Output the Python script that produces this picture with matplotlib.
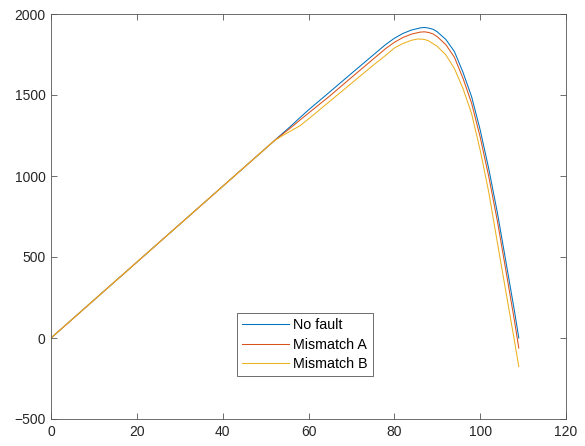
import matplotlib
matplotlib.use("Agg")
import matplotlib.pyplot as plt
import numpy as np

plt.rcParams['font.family'] = ['Liberation Sans', 'DejaVu Sans']

# Data
x_nf = [0, 52, 54, 56, 58, 60, 65, 70, 75, 78, 80, 82, 84, 86, 87, 88, 89, 90,
        92, 94, 96, 98, 100, 102, 104, 106, 108, 109]
y_nf = [0, 1217, 1264, 1311, 1360, 1408, 1520, 1633, 1745, 1812, 1850, 1880,
        1901, 1914, 1917, 1913, 1906, 1890, 1843, 1768, 1640, 1490, 1285, 1045,
        775, 471, 165, 0]

x_ma = [0, 52, 54, 56, 58, 60, 65, 70, 75, 78, 80, 82, 84, 86, 87, 88, 89, 90,
        92, 94, 96, 98, 100, 102, 104, 106, 108, 109]
y_ma = [0, 1217, 1259, 1301, 1345, 1388, 1495, 1608, 1720, 1787, 1825, 1855,
        1876, 1888, 1890, 1886, 1877, 1860, 1811, 1733, 1603, 1450, 1241, 997,
        724, 416, 105, -62]

x_mb = [0, 52, 54, 56, 58, 60, 65, 70, 75, 78, 80, 82, 84, 85.5, 87, 88, 90,
        92, 94, 96, 98, 100, 101, 102, 104, 106, 108, 109]
y_mb = [0, 1217, 1250, 1280, 1310, 1352, 1462, 1572, 1682, 1745, 1790, 1818,
        1838, 1846, 1843, 1834, 1800, 1748, 1663, 1540, 1385, 1160, 1030, 900,
        590, 285, -20, -177]

labels = ['No fault', 'Mismatch A', 'Mismatch B']
colors = ['#0072BD', '#D95319', '#EDB120']

xticks = [0, 20, 40, 60, 80, 100, 120]
yticks = [-500, 0, 500, 1000, 1500, 2000]

fig = plt.figure(figsize=(5.85, 4.46), dpi=100)
ax = fig.add_axes([51 / 585, 27 / 446, 515 / 585, 405 / 446])

for xs, ys, lab, c in zip([x_nf, x_ma, x_mb], [y_nf, y_ma, y_mb], labels, colors):
    ax.plot(xs, ys, color=c, lw=0.75, label=lab)

ax.set_xlim(0, 120)
ax.set_ylim(-500, 2000)
ax.set_xticks(xticks)
ax.set_yticks(yticks)

axcol = '#262626'
for s in ax.spines.values():
    s.set_color('#555555')
    s.set_linewidth(0.6)
ax.tick_params(direction='in', top=True, right=True, length=4, width=0.6,
               color='#555555', labelcolor=axcol, labelsize=10, pad=4)

leg = ax.legend(loc='center', bbox_to_anchor=(0.493, 0.183), fontsize=10.3,
                frameon=True, fancybox=False, handlelength=3.3,
                borderpad=0.35, labelspacing=0.38, handletextpad=0.3,
                borderaxespad=0)
leg.get_frame().set_edgecolor('#555555')
leg.get_frame().set_linewidth(0.6)
leg.get_frame().set_alpha(1)

fig.savefig('out.png', dpi=100)
